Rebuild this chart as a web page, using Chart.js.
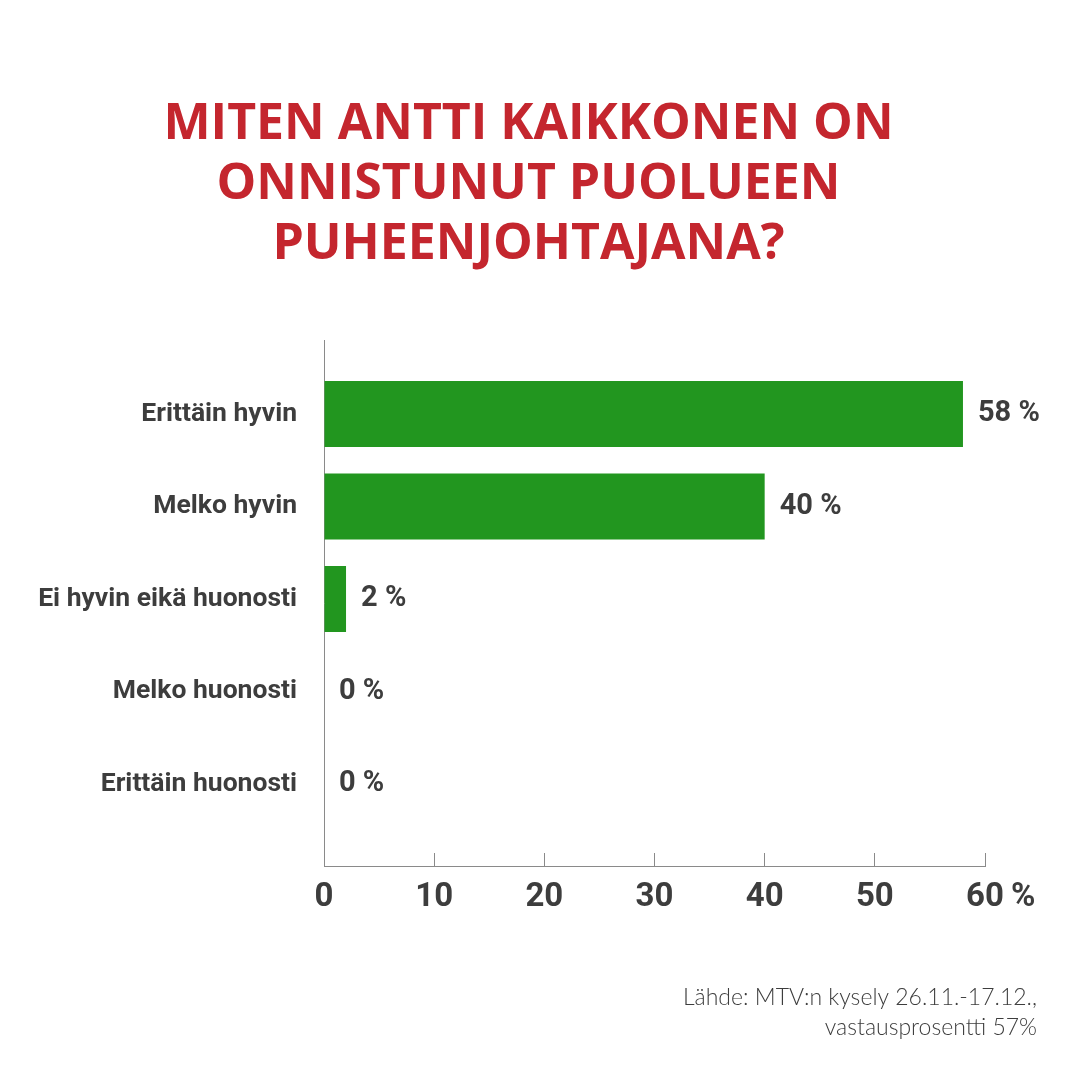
<!DOCTYPE html>
<html><head><meta charset="utf-8">
<script src="https://cdn.jsdelivr.net/npm/chart.js@4.4.1/dist/chart.umd.min.js"></script>
<style>html,body{margin:0;padding:0;background:#fff}</style>
</head><body>
<canvas id="c" width="1080" height="1080"></canvas>
<script>
const titleLines = ['MITEN ANTTI KAIKKONEN ON', 'ONNISTUNUT PUOLUEEN', 'PUHEENJOHTAJANA?'];
const categories = ['Erittäin hyvin', 'Melko hyvin', 'Ei hyvin eikä huonosti', 'Melko huonosti', 'Erittäin huonosti'];
const values = [58, 40, 2, 0, 0];
const xTicks = [0, 10, 20, 30, 40, 50, 60];
const xUnit = '%';
const sourceLines = ['Lähde: MTV:n kysely 26.11.-17.12.,', 'vastausprosentti 57%'];

const RED = '#c4262e', GREEN = '#22961f', TEXT = '#3d3d3d', AXIS = '#8a8a8a';

const valueLabels = {
  id: 'valueLabels',
  afterDatasetsDraw(chart) {
    const ctx = chart.ctx;
    const meta = chart.getDatasetMeta(0);
    ctx.save();
    ctx.font = 'bold 29px Roboto';
    ctx.fillStyle = TEXT;
    ctx.textBaseline = 'middle';
    ctx.textAlign = 'left';
    meta.data.forEach((bar, i) => {
      ctx.fillText(values[i] + ' %', bar.x + 15, bar.y);
    });
    ctx.restore();
  }
};

const unitLabel = {
  id: 'unitLabel',
  afterDraw(chart) {
    const xs = chart.scales.x;
    const items = xs.getLabelItems();
    const last = items[items.length - 1];
    const ctx = chart.ctx;
    ctx.save();
    ctx.font = last.font.string;
    const w = ctx.measureText(last.label).width;
    ctx.fillStyle = TEXT;
    ctx.textAlign = 'left';
    ctx.textBaseline = last.options.textBaseline;
    ctx.fillText(xUnit, last.options.translation[0] + w / 2 + 7, last.options.translation[1] + (last.textOffset || 0));
    ctx.restore();
  }
};

new Chart(document.getElementById('c'), {
  type: 'bar',
  data: {
    datasets: [{
      data: values.map((v, i) => ({ x: v, y: i })),
      backgroundColor: GREEN,
      borderWidth: 0,
      barPercentage: 0.714,
      categoryPercentage: 1
    }]
  },
  options: {
    responsive: false,
    animation: false,
    indexAxis: 'y',
    layout: { padding: { left: 20, right: 43, top: 0, bottom: 0 } },
    plugins: {
      legend: { display: false },
      tooltip: { enabled: false },
      title: {
        display: true,
        text: titleLines,
        color: RED,
        font: { family: 'Open Sans', weight: 'bold', size: 50, lineHeight: 60 / 50 },
        padding: { top: 95, bottom: 65 }
      },
      subtitle: {
        display: true,
        position: 'bottom',
        align: 'end',
        text: sourceLines,
        color: TEXT,
        font: { family: 'Lato', weight: '300', size: 23, lineHeight: 30 / 23 },
        padding: { top: 0, bottom: 37 }
      }
    },
    scales: {
      x: {
        type: 'linear',
        min: 0, max: 60,
        afterBuildTicks(s) { s.ticks = xTicks.map(v => ({ value: v })); },
        afterFit(s) { s.height = 117; },
        ticks: {
          color: TEXT,
          font: { family: 'Roboto', weight: 'bold', size: 33 },
          padding: 25,
          maxRotation: 0
        },
        grid: { drawOnChartArea: false, drawTicks: true, tickLength: -13, color: AXIS, lineWidth: 1 },
        border: { display: true, color: AXIS, width: 1 }
      },
      y: {
        type: 'linear',
        reverse: true,
        offset: false,
        min: -0.8, max: 4.886,
        afterBuildTicks(s) { s.ticks = categories.map((c, i) => ({ value: i })); },
        afterFit(s) { s.width = 304; },
        ticks: {
          color: TEXT,
          font: { family: 'Roboto', weight: 'bold', size: 26.5 },
          padding: 27,
          callback: (v) => categories[v]
        },
        grid: { display: false, drawTicks: false, offset: false },
        border: { display: true, color: AXIS, width: 1 }
      },
      yR: {
        type: 'linear',
        position: 'right',
        display: true,
        afterFit(s) { s.width = 52; },
        ticks: { display: false },
        grid: { display: false, drawTicks: false },
        border: { display: false }
      }
    }
  },
  plugins: [valueLabels, unitLabel]
});
</script>
</body></html>
